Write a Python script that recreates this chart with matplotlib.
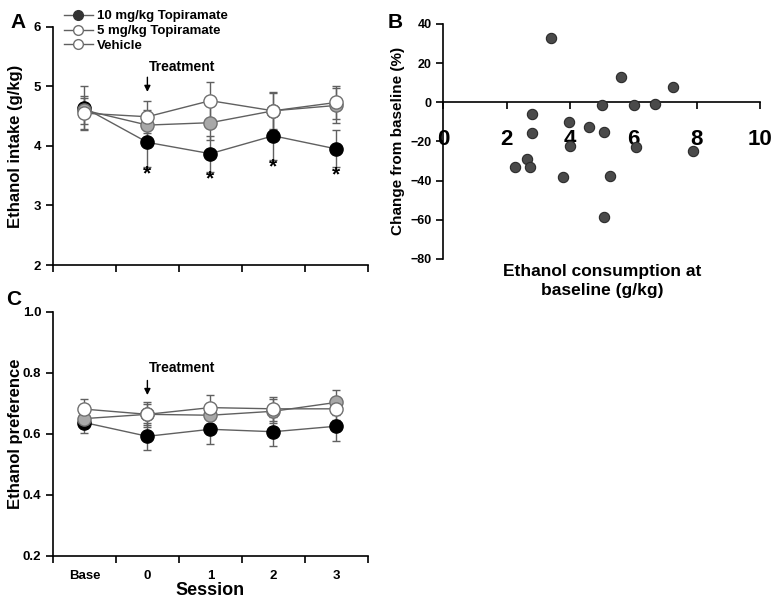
import matplotlib
matplotlib.use("Agg")
import matplotlib.pyplot as plt
from matplotlib.lines import Line2D

plt.rcParams['font.family'] = ['Liberation Sans', 'DejaVu Sans']
plt.rcParams['font.weight'] = 'bold'
plt.rcParams['axes.labelweight'] = 'bold'

sessions = ["Base", "0", "1", "2", "3"]
groups = ["10 mg/kg Topiramate", "5 mg/kg Topiramate", "Vehicle"]

# panel A - ethanol intake (g/kg)
intake_10 = [4.64, 4.06, 3.87, 4.17, 3.95]
intake_10_err = [0.37, 0.41, 0.30, 0.41, 0.31]
intake_5 = [4.60, 4.35, 4.39, 4.59, 4.68]
intake_5_err = [0.24, 0.25, 0.29, 0.30, 0.30]
intake_veh = [4.55, 4.49, 4.76, 4.59, 4.73]
intake_veh_err = [0.26, 0.27, 0.31, 0.32, 0.28]
sig_sessions = [1, 2, 3, 4]

# panel C - ethanol preference
pref_10 = [0.637, 0.592, 0.615, 0.607, 0.625]
pref_10_err = [0.035, 0.045, 0.047, 0.048, 0.048]
pref_5 = [0.650, 0.664, 0.661, 0.674, 0.703]
pref_5_err = [0.030, 0.035, 0.035, 0.040, 0.040]
pref_veh = [0.681, 0.664, 0.686, 0.682, 0.682]
pref_veh_err = [0.034, 0.040, 0.040, 0.040, 0.035]

# panel B - individual rats
base_cons = [3.40, 5.60, 7.24, 5.00, 6.03, 6.68, 2.79, 3.96, 4.59, 2.79,
             5.08, 4.00, 6.07, 7.87, 2.63, 2.26, 2.73, 3.78, 5.25, 5.08]
change_pct = [33.0, 13.1, 7.7, -1.5, -1.5, -1.1, -5.9, -10.0, -12.7, -15.9,
              -15.1, -22.6, -22.7, -25.1, -29.0, -33.1, -33.3, -38.2, -37.9, -58.6]

styles = [dict(mfc='black', mec='black'),
          dict(mfc='#a8a8a8', mec='#707070'),
          dict(mfc='white', mec='#707070')]
line_c = '#606060'

fig = plt.figure(figsize=(7.79, 6.03), dpi=100)
axA = fig.add_axes([0.068, 0.5605, 0.404, 0.395])
axC = fig.add_axes([0.068, 0.078, 0.404, 0.405])
axB = fig.add_axes([0.569, 0.5705, 0.407, 0.39])

xpos = [i + 0.5 for i in range(len(sessions))]


def draw_groups(ax, means, errs):
    for m, e, st in zip(means, errs, styles):
        ax.errorbar(xpos, m, yerr=e, color=line_c, ecolor=line_c, elinewidth=1,
                    capsize=3, capthick=1, lw=1, marker='o', ms=9.5, mew=1, **st)


def style_session_axis(ax):
    for s in ['top', 'right']:
        ax.spines[s].set_visible(False)
    ax.set_xlim(0, 5)
    ax.set_xticks(range(6))
    ax.tick_params(axis='x', length=5, width=1.2, labelbottom=False)
    ax.tick_params(axis='y', length=5, width=1.2, labelsize=9.5)
    ax.spines['left'].set_linewidth(1.2)
    ax.spines['bottom'].set_linewidth(1.2)


# A
draw_groups(axA, [intake_10, intake_5, intake_veh], [intake_10_err, intake_5_err, intake_veh_err])
style_session_axis(axA)
axA.set_ylim(2, 6)
axA.set_yticks([2, 3, 4, 5, 6])
axA.set_ylabel("Ethanol intake (g/kg)", fontsize=12)
axA.yaxis.set_label_coords(-0.095, 0.5)
for i in sig_sessions:
    axA.text(xpos[i], intake_10[i] - intake_10_err[i] - 0.12, "*", ha='center', va='center',
             fontsize=15)
axA.annotate("", xy=(xpos[1], 4.86), xytext=(xpos[1], 5.2),
             arrowprops=dict(arrowstyle='-|>', color='black', lw=1, mutation_scale=9))
axA.text(xpos[1] + 0.02, 5.33, "Treatment", ha='left', va='center', fontsize=10)

# C
draw_groups(axC, [pref_10, pref_5, pref_veh], [pref_10_err, pref_5_err, pref_veh_err])
style_session_axis(axC)
axC.set_ylim(0.2, 1.0)
axC.set_yticks([0.2, 0.4, 0.6, 0.8, 1.0])
axC.set_yticklabels(["0.2", "0.4", "0.6", "0.8", "1.0"])
axC.set_xticks(xpos, minor=True)
axC.set_xticklabels(sessions, minor=True)
axC.tick_params(axis='x', which='minor', length=0, labelsize=9.5, pad=10)
axC.set_xlabel("Session", fontsize=13, labelpad=0)
axC.set_ylabel("Ethanol preference", fontsize=12)
axC.yaxis.set_label_coords(-0.095, 0.5)
axC.annotate("", xy=(xpos[1], 0.718), xytext=(xpos[1], 0.784),
             arrowprops=dict(arrowstyle='-|>', color='black', lw=1, mutation_scale=9))
axC.text(xpos[1] + 0.02, 0.816, "Treatment", ha='left', va='center', fontsize=10)

# B
axB.scatter(base_cons, change_pct, s=55, color='#4a4a4a', edgecolor='#2a2a2a', lw=0.8, zorder=3)
for s in ['top', 'right']:
    axB.spines[s].set_visible(False)
axB.spines['bottom'].set_position(('data', 0))
axB.spines['left'].set_linewidth(1.2)
axB.spines['bottom'].set_linewidth(1.2)
axB.set_xlim(0, 10)
axB.set_ylim(-80, 40)
axB.set_xticks([0, 2, 4, 6, 8, 10])
axB.set_yticks([-80, -60, -40, -20, 0, 20, 40])
axB.tick_params(axis='x', length=5, width=1.2, labelsize=16, pad=14)
axB.tick_params(axis='y', length=5, width=1.2, labelsize=9)
axB.set_ylabel("Change from baseline (%)", fontsize=11)
axB.yaxis.set_label_coords(-0.12, 0.5)
axB.text(0.5, -0.02, "Ethanol consumption at\nbaseline (g/kg)", transform=axB.transAxes,
         ha='center', va='top', fontsize=12.5, linespacing=1.4)

# legend
handles = [Line2D([], [], color=line_c, lw=1, marker='o', ms=7, mfc='#333333', mec='#333333'),
           Line2D([], [], color=line_c, lw=1, marker='o', ms=7, mfc='white', mec='#707070'),
           Line2D([], [], color=line_c, lw=1, marker='o', ms=7, mfc='white', mec='#707070')]
fig.legend(handles, groups, loc='upper left', bbox_to_anchor=(0.075, 0.992), frameon=False,
           fontsize=9.5, handlelength=2.2, handletextpad=0.3, labelspacing=0.2, borderaxespad=0)

fig.text(0.023, 0.963, "A", fontsize=15, ha='center', va='center')
fig.text(0.507, 0.963, "B", fontsize=15, ha='center', va='center')
fig.text(0.018, 0.503, "C", fontsize=15, ha='center', va='center')

fig.savefig("out.png", dpi=100)
